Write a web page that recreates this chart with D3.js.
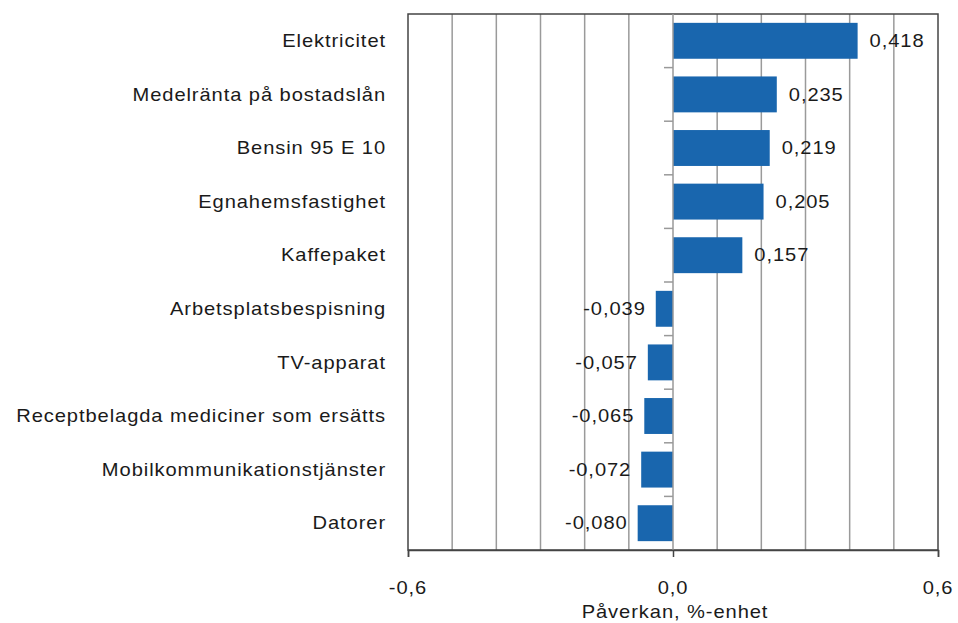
<!DOCTYPE html>
<html><head><meta charset="utf-8">
<script src="https://cdn.jsdelivr.net/npm/d3@7"></script>
<style>body{margin:0;background:#fff;} text{font-family:"Liberation Sans",Arial,sans-serif;fill:#1a1a1a;}</style>
</head><body>
<svg id="c" width="958" height="623"></svg>
<script>
const categories = ["Elektricitet","Medelränta på bostadslån","Bensin 95 E 10","Egnahemsfastighet","Kaffepaket","Arbetsplatsbespisning","TV-apparat","Receptbelagda mediciner som ersätts","Mobilkommunikationstjänster","Datorer"];
const values = [0.418,0.235,0.219,0.205,0.157,-0.039,-0.057,-0.065,-0.072,-0.080];
const tickLabels = [-0.6, 0.0, 0.6];
const gridValues = [-0.5,-0.4,-0.3,-0.2,-0.1,0.1,0.2,0.3,0.4,0.5];
const axisTitle = "Påverkan, %-enhet";

const fmt = v => d3.format(".3f")(v).replace(".", ",").replace("−","-");
const fmt1 = v => d3.format(".1f")(v).replace(".", ",").replace("−","-");

const L = 408, R = 938, T = 14, B = 550;
const FS = 17.5, SX = 1.15, LS = 0.8;
const svg = d3.select("#c");
const x = d3.scaleLinear().domain([-0.6, 0.6]).range([L, R]);
const y = d3.scaleBand().domain(categories).range([T, B]).paddingInner(0.33).paddingOuter(0.165);

function label(g, px, py, txt, anchor) {
  g.append("text").attr("transform", `translate(${px},${py}) scale(${SX},1)`)
    .attr("text-anchor", anchor).attr("dy", "0.35em").attr("font-size", FS)
    .attr("letter-spacing", LS).text(txt);
}

// gridlines
svg.append("g").selectAll("line").data(gridValues).join("line")
  .attr("x1", d => x(d)).attr("x2", d => x(d)).attr("y1", T).attr("y2", B)
  .attr("stroke", "#9a9a9a").attr("stroke-width", 1.5);

// frame
svg.append("rect").attr("x", L).attr("y", T).attr("width", R - L).attr("height", B - T)
  .attr("fill", "none").attr("stroke", "#444").attr("stroke-width", 1.5);

// bars
svg.append("g").selectAll("rect").data(values).join("rect")
  .attr("x", d => x(Math.min(0, d))).attr("width", d => Math.abs(x(d) - x(0)))
  .attr("y", (d, i) => y(categories[i])).attr("height", y.bandwidth())
  .attr("fill", "#1966ae");

// zero axis
svg.append("line").attr("x1", x(0)).attr("x2", x(0)).attr("y1", T).attr("y2", B)
  .attr("stroke", "#999").attr("stroke-width", 1.5);
// category boundary ticks
svg.append("g").selectAll("line").data(d3.range(1, categories.length)).join("line")
  .attr("x1", x(0) - 9).attr("x2", x(0)).attr("y1", d => T + d * (B - T) / categories.length).attr("y2", d => T + d * (B - T) / categories.length)
  .attr("stroke", "#999").attr("stroke-width", 1.5);

// bottom axis
const xAxis = d3.axisBottom(x).tickValues(tickLabels).tickSize(7).tickFormat(fmt1);
const ga = svg.append("g").attr("transform", `translate(0,${B})`).call(xAxis);
ga.select(".domain").attr("stroke", "#444").attr("stroke-width", 1.5);
ga.selectAll(".tick line").attr("stroke", "#444").attr("stroke-width", 1.5);
ga.selectAll(".tick text").remove();
const gt = svg.append("g");
tickLabels.forEach(t => label(gt, x(t), B + 38, fmt1(t), "middle"));

// category labels
const gc = svg.append("g");
categories.forEach(c => label(gc, 386, y(c) + y.bandwidth() / 2, c, "end"));

// value labels
const gv = svg.append("g");
values.forEach((d, i) => label(gv, d >= 0 ? x(d) + 12 : x(d) - 10, y(categories[i]) + y.bandwidth() / 2, fmt(d), d >= 0 ? "start" : "end"));

label(svg.append("g"), x(0) + 2, 612, axisTitle, "middle");
</script>
</body></html>
